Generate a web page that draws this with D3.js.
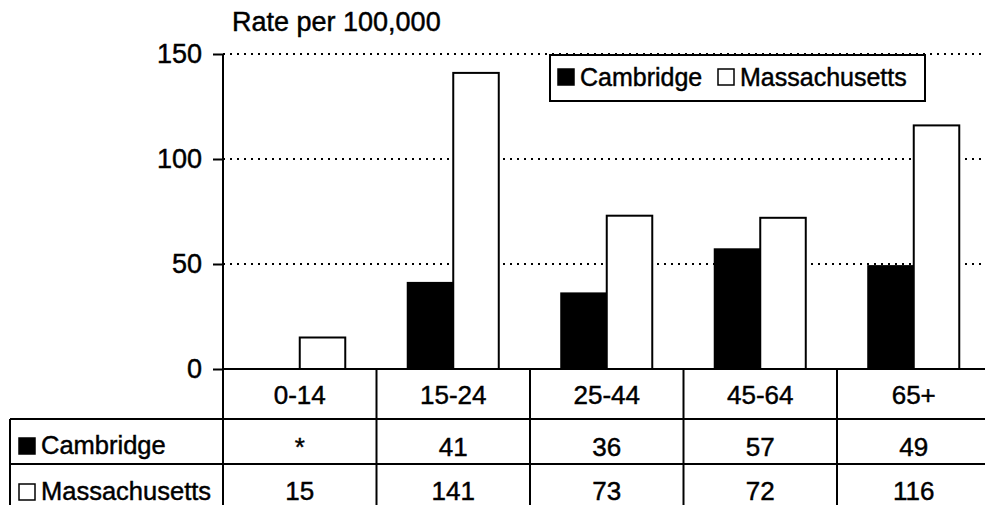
<!DOCTYPE html>
<html>
<head>
<meta charset="utf-8">
<script src="https://cdn.jsdelivr.net/npm/d3@7"></script>
<style>
  html, body { margin: 0; padding: 0; background: #fff; }
  svg { display: block; font-family: "Liberation Sans", Arial, sans-serif; }
  svg text { stroke: #000; stroke-width: 0.45px; fill: #000; }
</style>
</head>
<body>
<svg id="chart" width="985" height="505"></svg>
<script>
// Age-group rates per 100,000
const categories = ["0-14", "15-24", "25-44", "45-64", "65+"];
const seriesNames = ["Cambridge", "Massachusetts"];
const cambridge = [null, 41, 36, 57, 49];      // null = suppressed (*)
const massachusetts = [15, 141, 73, 72, 116];
const yTicks = [0, 50, 100, 150];
const yLabel = "Rate per 100,000";

const svg = d3.select("#chart");
const W = 985, H = 505;

const plotLeft = 223, plotRight = 990.5, plotTop = 54, zeroY = 369;
const row1 = 419, row2 = 464, tableLeft = 10;

const x = d3.scaleBand().domain(categories).range([plotLeft, plotRight]).paddingInner(0).paddingOuter(0);
const bw = x.bandwidth();
const pairW = bw * 0.593;
const xs = d3.scaleBand().domain(seriesNames).range([(bw - pairW) / 2, (bw + pairW) / 2]);
const y = d3.scaleLinear().domain([0, 150]).range([zeroY, plotTop]);

const fills = { Cambridge: "#000", Massachusetts: "#fff" };
const values = { Cambridge: cambridge, Massachusetts: massachusetts };

// dotted gridlines
svg.append("g").selectAll("line")
  .data(yTicks.filter(d => d > 0))
  .join("line")
  .attr("x1", plotLeft).attr("x2", W)
  .attr("y1", d => y(d)).attr("y2", d => y(d))
  .attr("stroke", "#000").attr("stroke-width", 2)
  .attr("stroke-dasharray", "2,5");

// bars
const bars = svg.append("g");
seriesNames.forEach(s => {
  bars.selectAll(null)
    .data(categories.map((c, i) => ({ c, v: values[s][i] })).filter(d => d.v != null))
    .join("rect")
    .attr("x", d => x(d.c) + xs(s))
    .attr("width", xs.bandwidth())
    .attr("y", d => y(d.v))
    .attr("height", d => zeroY - y(d.v))
    .attr("fill", fills[s])
    .attr("stroke", "#000").attr("stroke-width", 2);
});

// y axis
const yAxis = d3.axisLeft(y).tickValues(yTicks).tickSize(10).tickPadding(11);
const ga = svg.append("g").attr("transform", `translate(${plotLeft},0)`).call(yAxis);
ga.select(".domain").remove();
ga.selectAll(".tick line").attr("stroke", "#000").attr("stroke-width", 2);
ga.selectAll(".tick text").attr("font-size", 27).attr("fill", "#000")
  .attr("font-family", "'Liberation Sans', Arial, sans-serif");

svg.append("line").attr("x1", plotLeft).attr("x2", plotLeft).attr("y1", plotTop).attr("y2", H)
  .attr("stroke", "#000").attr("stroke-width", 2);

// axis label
svg.append("text").attr("x", 232).attr("y", 31).attr("font-size", 27).text(yLabel);

// data table
const tbl = svg.append("g").attr("stroke", "#000").attr("stroke-width", 2);
tbl.append("line").attr("x1", plotLeft).attr("x2", W).attr("y1", zeroY).attr("y2", zeroY);
[row1, row2].forEach(yy => tbl.append("line").attr("x1", tableLeft).attr("x2", W).attr("y1", yy).attr("y2", yy));
tbl.append("line").attr("x1", tableLeft).attr("x2", tableLeft).attr("y1", row1).attr("y2", H);
tbl.selectAll(null).data(categories.slice(1)).join("line")
  .attr("x1", d => x(d)).attr("x2", d => x(d)).attr("y1", zeroY).attr("y2", H);

const txt = svg.append("g").attr("font-size", 26).attr("text-anchor", "middle");
txt.selectAll(null).data(categories).join("text")
  .attr("x", d => x(d) + bw / 2).attr("y", 404).text(d => d);
txt.selectAll(null).data(categories).join("text")
  .attr("x", d => x(d) + bw / 2).attr("y", 456)
  .text((d, i) => cambridge[i] == null ? "*" : cambridge[i]);
txt.selectAll(null).data(categories).join("text")
  .attr("x", d => x(d) + bw / 2).attr("y", 500).text((d, i) => massachusetts[i]);

// row headers with swatches
const rowBase = [454, 500];
seriesNames.forEach((s, i) => {
  svg.append("rect").attr("x", 19).attr("y", rowBase[i] - 16).attr("width", 16).attr("height", 16)
    .attr("fill", fills[s]).attr("stroke", "#000").attr("stroke-width", 1.5);
  svg.append("text").attr("x", 41).attr("y", rowBase[i]).attr("font-size", 25.5).text(s);
});

// legend
const lg = svg.append("g");
lg.append("rect").attr("x", 550).attr("y", 55).attr("width", 375).attr("height", 46)
  .attr("fill", "#fff").attr("stroke", "#000").attr("stroke-width", 2);
const legendX = [558, 718];
seriesNames.forEach((s, i) => {
  lg.append("rect").attr("x", legendX[i]).attr("y", 69).attr("width", 16).attr("height", 16)
    .attr("fill", fills[s]).attr("stroke", "#000").attr("stroke-width", 1.5);
  lg.append("text").attr("x", legendX[i] + 22).attr("y", 86).attr("font-size", 25).text(s);
});
</script>
</body>
</html>
